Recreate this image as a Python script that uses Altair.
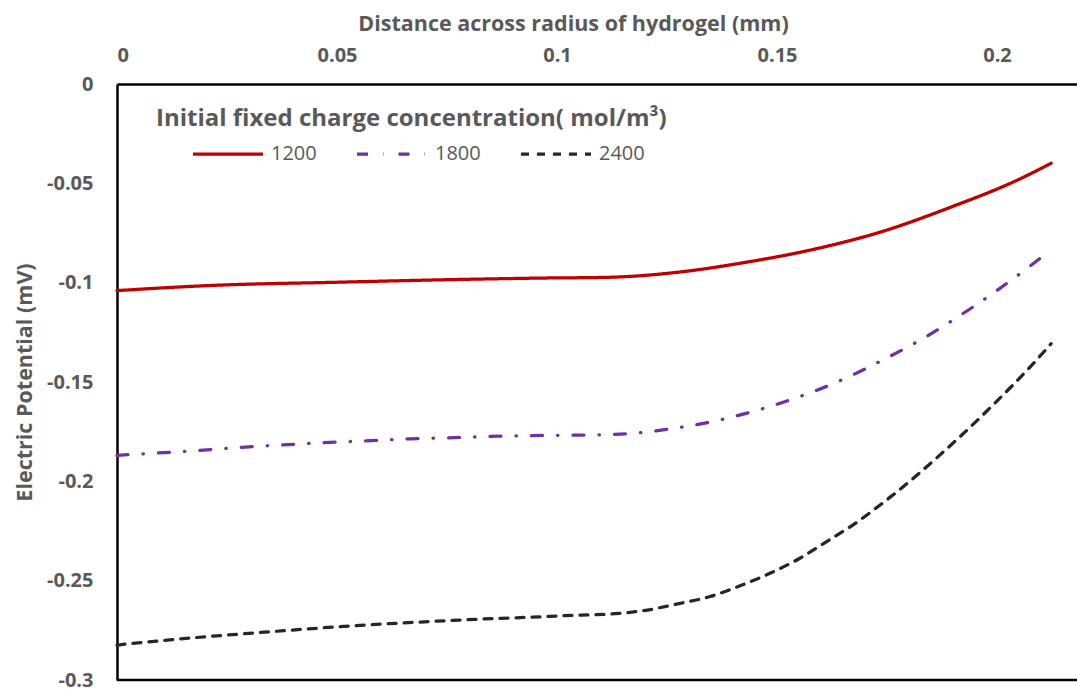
import altair as alt
import pandas as pd

# Electric potential across the hydrogel radius for three initial fixed charge concentrations
x_1200 = [0, 0.0204, 0.0517, 0.0752, 0.0961, 0.1117, 0.1273, 0.1428, 0.1584, 0.174, 0.1895, 0.2051, 0.2123]
v_1200 = [-0.104, -0.1015, -0.0997, -0.0985, -0.0977, -0.0973, -0.0948, -0.0898, -0.0832, -0.0742, -0.062, -0.0479, -0.0399]

x_1800 = [0, 0.0064, 0.0165, 0.0265, 0.0365, 0.0466, 0.0566, 0.0667, 0.0767, 0.0867, 0.0969, 0.1069,
          0.117, 0.127, 0.1368, 0.1466, 0.1561, 0.1655, 0.1745, 0.1834, 0.1919, 0.2082, 0.2123]
v_1800 = [-0.1869, -0.1861, -0.1848, -0.1831, -0.1818, -0.1806, -0.1796, -0.1786, -0.178, -0.1773, -0.1769, -0.1767,
          -0.1759, -0.1732, -0.1692, -0.1635, -0.1566, -0.1482, -0.1384, -0.1278, -0.1161, -0.0905, -0.0834]

x_2400 = [0, 0.0125, 0.036, 0.0517, 0.0673, 0.083, 0.0961, 0.1008, 0.114, 0.1196, 0.128, 0.1348, 0.1416,
          0.1484, 0.1552, 0.1613, 0.1673, 0.1719, 0.1764, 0.1817, 0.187, 0.192, 0.1977, 0.203, 0.2075, 0.2123]
v_2400 = [-0.2824, -0.2797, -0.2755, -0.273, -0.271, -0.2693, -0.2682, -0.2677, -0.2665, -0.2651, -0.2614, -0.258, -0.2526,
          -0.2463, -0.2387, -0.2303, -0.2219, -0.2145, -0.2068, -0.1971, -0.1868, -0.1767, -0.1646, -0.1529, -0.1425, -0.1307]

series_names = ["1200", "1800", "2400"]
series_colors = ["#C00000", "#7030A0", "#262626"]
series_dashes = [[1, 0], [11, 15, 0.5, 15], [8, 8]]

x_ticks = [0, 0.05, 0.1, 0.15, 0.2]
y_ticks = [0, -0.05, -0.1, -0.15, -0.2, -0.25, -0.3]

rows = []
for name, xs, vs in zip(series_names, [x_1200, x_1800, x_2400], [v_1200, v_1800, v_2400]):
    for x, v in zip(xs, vs):
        rows.append({"distance": x, "potential": v, "series": name})
df = pd.DataFrame(rows)

FONT = "Open Sans"
TEXT = "#595959"
PLOT_W, PLOT_H = 960, 596

x_enc = alt.X(
    "distance:Q",
    scale=alt.Scale(domain=[0, PLOT_W / 4400], nice=False, zero=False),
    axis=alt.Axis(
        orient="top", values=x_ticks, labelExpr="'' + datum.value",
        title="Distance across radius of hydrogel (mm)",
        titleFontSize=21.5, titleFontWeight="bold", titleColor=TEXT, titleFont=FONT,
        titlePadding=10, titleAnchor="middle", titleX=456,
        labelFontSize=20, labelFontWeight="bold", labelColor=TEXT, labelFont=FONT,
        labelPadding=19, ticks=False, grid=False,
        domainColor="black", domainWidth=2.5,
    ),
)
y_enc = alt.Y(
    "potential:Q",
    scale=alt.Scale(domain=[-0.3, 0], nice=False),
    axis=alt.Axis(
        values=y_ticks, labelExpr="'' + datum.value",
        title="Electric Potential (mV)",
        titleFontSize=21.5, titleFontWeight="bold", titleColor=TEXT, titleFont=FONT,
        titlePadding=10,
        labelFontSize=20, labelFontWeight="bold", labelColor=TEXT, labelFont=FONT,
        labelPadding=24, ticks=False, grid=False,
        domainColor="black", domainWidth=2.5,
    ),
)

lines = alt.Chart(df).mark_line(strokeWidth=3.25, strokeCap="round", interpolate="monotone").encode(
    x=x_enc,
    y=y_enc,
    color=alt.Color(
        "series:N",
        scale=alt.Scale(domain=series_names, range=series_colors),
        legend=alt.Legend(
            title=None, orient="none", direction="horizontal",
            legendX=74, legendY=33, padding=0,
            symbolType="stroke", symbolSize=4900, symbolStrokeWidth=3.25,
            labelFontSize=20, labelColor=TEXT, labelFont=FONT, labelOffset=6,
            columnPadding=33,
        ),
    ),
    strokeDash=alt.StrokeDash(
        "series:N",
        scale=alt.Scale(domain=series_names, range=series_dashes),
        legend=alt.Legend(title=None, orient="none", legendX=74, legendY=33),
    ),
)

# bottom frame line of the plot area
bottom = alt.Chart(pd.DataFrame({"potential": [-0.3]})).mark_rule(
    color="black", strokeWidth=2.5
).encode(y=alt.Y("potential:Q"))

chart = alt.layer(lines, bottom).properties(
    width=PLOT_W,
    height=PLOT_H,
    autosize=alt.AutoSizeParams(type="none"),
    padding={"left": 117, "top": 84, "right": 0, "bottom": 12},
    title=alt.TitleParams(
        text="Initial fixed charge concentration( mol/m\u00b3)",
        anchor="start", frame="group", orient="top",
        dx=39, dy=122,
        fontSize=24, fontWeight="bold", color=TEXT, font=FONT,
    ),
).configure_view(stroke=None).configure(background="white")

chart.save("out.html", embed_options={"renderer": "svg", "actions": False})
